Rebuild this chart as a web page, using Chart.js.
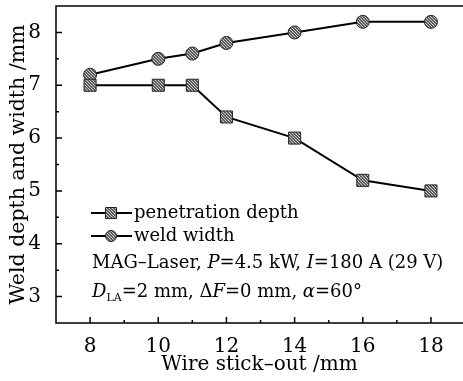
<!DOCTYPE html>
<html>
<head>
<meta charset="utf-8">
<script src="https://cdn.jsdelivr.net/npm/chart.js@4.4.0/dist/chart.umd.min.js"></script>
<style>
  html, body { margin: 0; padding: 0; background: #fff; }
  #wrap { width: 463px; height: 381px; }
</style>
</head>
<body>
<div id="wrap"><canvas id="chart" width="463" height="381"></canvas></div>
<script>
// data
var stickOut = [8, 10, 11, 12, 14, 16, 18];
var penetrationDepth = [7.0, 7.0, 7.0, 6.4, 6.0, 5.2, 5.0];
var weldWidth = [7.2, 7.5, 7.6, 7.8, 8.0, 8.2, 8.2];
var xTicks = [8, 10, 12, 14, 16, 18];
var yTicks = [3, 4, 5, 6, 7, 8];
var xMinor = [9, 11, 13, 15, 17];
var yMinor = [3.5, 4.5, 5.5, 6.5, 7.5];

var FONT = "'DejaVu Serif', 'Liberation Serif', serif";

// grey checker fill like the printed markers
function makePattern() {
    var c = document.createElement('canvas');
    c.width = 3; c.height = 3;
    var g = c.getContext('2d');
    g.fillStyle = '#5a5a5a';
    g.fillRect(0, 0, 3, 3);
    g.fillStyle = '#d0d0d0';
    g.fillRect(0, 0, 1, 1);
    g.fillRect(1, 1, 1, 1);
    g.fillRect(2, 2, 1, 1);
    return g.createPattern(c, 'repeat');
}
var pat = makePattern();

function pts(xs, ys) {
    return xs.map(function (x, i) { return { x: x, y: ys[i] }; });
}

// frame (plot runs off the right edge), inward ticks, legend and notes
var decor = {
    id: 'decor',
    afterDraw: function (chart) {
        var ctx = chart.ctx, a = chart.chartArea;
        var xs = chart.scales.x, ys = chart.scales.y;
        ctx.save();
        ctx.strokeStyle = '#000';
        ctx.lineWidth = 1.5;
        ctx.beginPath();
        ctx.moveTo(chart.width, a.top);
        ctx.lineTo(a.left, a.top);
        ctx.lineTo(a.left, a.bottom);
        ctx.lineTo(chart.width, a.bottom);
        xTicks.forEach(function (v) {
            var p = xs.getPixelForValue(v);
            ctx.moveTo(p, a.bottom); ctx.lineTo(p, a.bottom - 6);
        });
        xMinor.forEach(function (v) {
            var p = xs.getPixelForValue(v);
            ctx.moveTo(p, a.bottom); ctx.lineTo(p, a.bottom - 3);
        });
        yTicks.forEach(function (v) {
            var p = ys.getPixelForValue(v);
            ctx.moveTo(a.left, p); ctx.lineTo(a.left + 6, p);
        });
        yMinor.forEach(function (v) {
            var p = ys.getPixelForValue(v);
            ctx.moveTo(a.left, p); ctx.lineTo(a.left + 3, p);
        });
        ctx.stroke();

        // legend
        var lx = a.left + 55, rows = [213, 236];
        chart.data.datasets.forEach(function (ds, i) {
            var y = rows[i];
            ctx.strokeStyle = '#000';
            ctx.lineWidth = 2;
            ctx.beginPath();
            ctx.moveTo(lx - 20, y); ctx.lineTo(lx + 21, y);
            ctx.stroke();
            ctx.fillStyle = pat;
            ctx.strokeStyle = '#222';
            ctx.lineWidth = 1;
            ctx.beginPath();
            if (ds.pointStyle === 'rect') ctx.rect(lx - 5.5, y - 5.5, 11, 11);
            else ctx.arc(lx, y, 5.5, 0, Math.PI * 2);
            ctx.fill(); ctx.stroke();
            ctx.fillStyle = '#000';
            ctx.font = '18px ' + FONT;
            ctx.textBaseline = 'middle';
            ctx.fillText(ds.label, lx + 23, y);
        });

        // parameter notes
        function run(parts, x, y) {
            parts.forEach(function (p) {
                var size = p.sub ? 11 : 18;
                ctx.font = (p.it ? 'italic ' : '') + size + 'px ' + FONT;
                ctx.fillText(p.t, x, y + (p.sub ? 6 : 0));
                x += ctx.measureText(p.t).width;
            });
        }
        ctx.textBaseline = 'middle';
        run([{ t: 'MAG\u2013Laser, ' }, { t: 'P', it: 1 }, { t: '=4.5 kW, ' },
             { t: 'I', it: 1 }, { t: '=180 A (29 V)' }], a.left + 36, 263);
        run([{ t: 'D', it: 1 }, { t: 'LA', sub: 1 }, { t: '=2 mm, \u0394' },
             { t: 'F', it: 1 }, { t: '=0 mm, ' }, { t: '\u03b1', it: 1 },
             { t: '=60\u00b0' }], a.left + 36, 292);
        ctx.restore();
    }
};

new Chart(document.getElementById('chart').getContext('2d'), {
    type: 'line',
    data: {
        datasets: [{
            label: 'penetration depth',
            data: pts(stickOut, penetrationDepth),
            borderColor: '#000',
            borderWidth: 2,
            pointStyle: 'rect',
            pointRadius: 8.5,
            pointBackgroundColor: pat,
            pointBorderColor: '#222',
            pointBorderWidth: 1,
            tension: 0
        }, {
            label: 'weld width',
            data: pts(stickOut, weldWidth),
            borderColor: '#000',
            borderWidth: 2,
            pointStyle: 'circle',
            pointRadius: 6.5,
            pointBackgroundColor: pat,
            pointBorderColor: '#222',
            pointBorderWidth: 1,
            tension: 0
        }]
    },
    options: {
        responsive: false,
        animation: false,
        clip: false,
        layout: { autoPadding: false, padding: { top: 6, right: 0, left: 0, bottom: 0 } },
        plugins: { legend: { display: false }, tooltip: { enabled: false } },
        scales: {
            x: {
                type: 'linear', min: 7, max: 18.94,
                afterBuildTicks: function (s) { s.ticks = xTicks.map(function (v) { return { value: v }; }); },
                afterFit: function (s) { s.height = 58; s.paddingLeft = 0; s.paddingRight = 0; },
                grid: { display: false },
                border: { display: false },
                ticks: { color: '#000', font: { family: FONT, size: 20 }, padding: 4, maxRotation: 0 },
                title: { display: true, text: 'Wire stick\u2013out /mm', color: '#000',
                         font: { family: FONT, size: 20 }, padding: { top: 0, bottom: 4 } }
            },
            y: {
                min: 2.5, max: 8.5,
                afterBuildTicks: function (s) { s.ticks = yTicks.map(function (v) { return { value: v }; }); },
                afterFit: function (s) { s.width = 56; s.paddingTop = 0; s.paddingBottom = 0; },
                grid: { display: false },
                border: { display: false },
                ticks: { color: '#000', font: { family: FONT, size: 20 }, padding: 7 },
                title: { display: true, text: 'Weld depth and width /mm', color: '#000',
                         font: { family: FONT, size: 20.5 }, padding: { top: 6, bottom: 0 } }
            }
        }
    },
    plugins: [decor]
});
</script>
</body>
</html>
